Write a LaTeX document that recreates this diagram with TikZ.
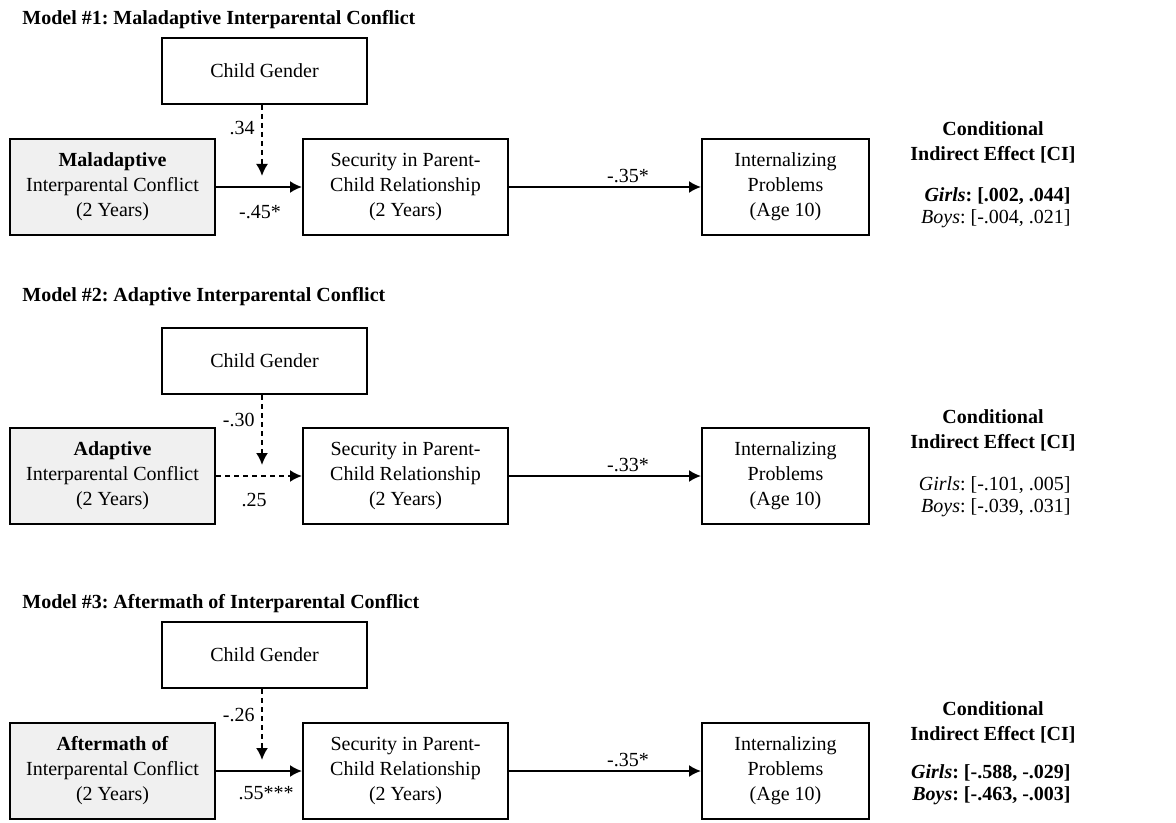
\documentclass[tikz,border=0pt]{standalone}
\usepackage{fontspec}
\setmainfont{Liberation Serif}
\usetikzlibrary{arrows.meta}
\frenchspacing

\tikzset{
  box/.style={draw, line width=1pt, minimum width=102.5pt, minimum height=48pt,
    inner sep=0pt, align=center, font=\fontsize{10}{12.5}\selectfont},
  genderbox/.style={box, minimum height=33pt},
  outbox/.style={box, minimum width=83.5pt},
  predbox/.style={box, fill=gray!12},
  arr/.style={-{Latex[length=6pt,width=6pt]}, line width=1pt},
  modarr/.style={arr, dash pattern=on 2.5pt off 2pt},
  coef/.style={font=\fontsize{10}{12}\selectfont, inner sep=1pt},
  modeltitle/.style={anchor=west, font=\bfseries\fontsize{10}{12}\selectfont, inner sep=0pt},
  cihead/.style={align=center, font=\bfseries\fontsize{10}{12.5}\selectfont, inner sep=0pt},
  cibody/.style={anchor=east, align=right, font=\fontsize{10}{11}\selectfont, inner sep=0pt}
}

\begin{document}
\begin{tikzpicture}[x=0.5pt, y=-0.5pt]
\useasboundingbox (0,0) rectangle (1176,823);

% Model 1
\node[modeltitle] (t1) at (22,20) {Model \#1: Maladaptive Interparental Conflict};
\node[genderbox] (cg1) at (264.5,71) {Child Gender};
\node[predbox] (x1) at (112.5,187) {\textbf{Maladaptive}\\Interparental Conflict\\(2 Years)};
\node[box] (m1) at (405.5,187) {Security in Parent-\\Child Relationship\\(2 Years)};
\node[outbox] (y1) at (785.5,187) {Internalizing\\Problems\\(Age 10)};
\coordinate (j1) at (262,176);
\draw[arr] (x1) -- (m1);
\draw[arr] (m1) -- (y1);
\draw[modarr] (cg1.south -| j1) -- (j1);
\node[coef, anchor=east] (w1) at (257,128) {.34};
\node[coef] (a1) at (260,212) {-.45*};
\node[coef] (b1) at (628,176) {-.35*};
\node[cihead] (h1) at (993,142) {Conditional\\Indirect Effect [CI]};
\node[cibody] (ci1) at (1071,208) {\textbf{\textit{Girls}: [.002, .044]}\\\textit{Boys}: [-.004, .021]};

% Model 2
\node[modeltitle] (t2) at (22,297) {Model \#2: Adaptive Interparental Conflict};
\node[genderbox] (cg2) at (264.5,361) {Child Gender};
\node[predbox] (x2) at (112.5,476) {\textbf{Adaptive}\\Interparental Conflict\\(2 Years)};
\node[box] (m2) at (405.5,476) {Security in Parent-\\Child Relationship\\(2 Years)};
\node[outbox] (y2) at (785.5,476) {Internalizing\\Problems\\(Age 10)};
\coordinate (j2) at (262,465);
\draw[modarr] (x2) -- (m2);
\draw[arr] (m2) -- (y2);
\draw[modarr] (cg2.south -| j2) -- (j2);
\node[coef, anchor=east] (w2) at (257,420) {-.30};
\node[coef] (a2) at (254,500) {.25};
\node[coef] (b2) at (628,465) {-.33*};
\node[cihead] (h2) at (993,430) {Conditional\\Indirect Effect [CI]};
\node[cibody] (ci2) at (1071,497) {\textit{Girls}: [-.101, .005]\\\textit{Boys}: [-.039, .031]};

% Model 3
\node[modeltitle] (t3) at (22,604) {Model \#3: Aftermath of Interparental Conflict};
\node[genderbox] (cg3) at (264.5,655) {Child Gender};
\node[predbox] (x3) at (112.5,771) {\textbf{Aftermath of}\\Interparental Conflict\\(2 Years)};
\node[box] (m3) at (405.5,771) {Security in Parent-\\Child Relationship\\(2 Years)};
\node[outbox] (y3) at (785.5,771) {Internalizing\\Problems\\(Age 10)};
\coordinate (j3) at (262,760);
\draw[arr] (x3) -- (m3);
\draw[arr] (m3) -- (y3);
\draw[modarr] (cg3.south -| j3) -- (j3);
\node[coef, anchor=east] (w3) at (257,715) {-.26};
\node[coef] (a3) at (266,793) {.55***};
\node[coef] (b3) at (628,760) {-.35*};
\node[cihead] (h3) at (993,722) {Conditional\\Indirect Effect [CI]};
\node[cibody] (ci3) at (1071,785) {\textbf{\textit{Girls}: [-.588, -.029]}\\\textbf{\textit{Boys}: [-.463, -.003]}};
\end{tikzpicture}
\end{document}
